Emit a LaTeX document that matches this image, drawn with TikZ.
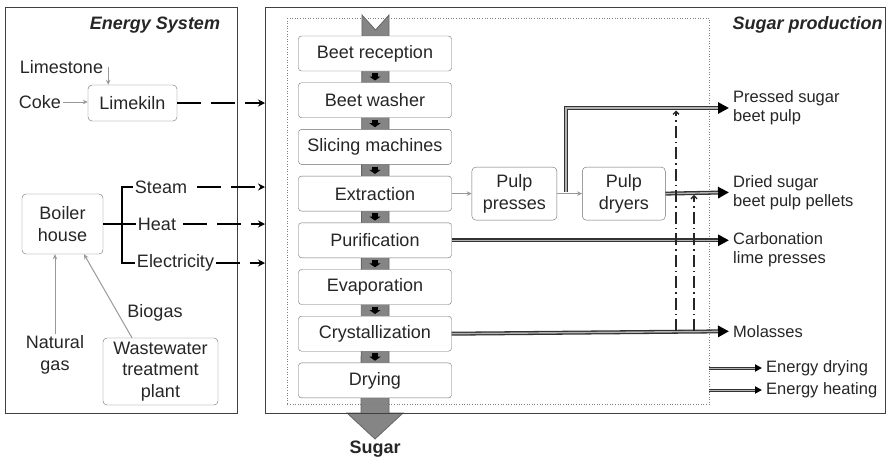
\documentclass[tikz,border=0pt]{standalone}
\usepackage{fontspec}
\setmainfont{Liberation Sans}
\usetikzlibrary{arrows.meta,positioning}

\begin{document}
\begin{tikzpicture}[
    x=1pt, y=-1pt,
    every node/.style={font=\fontsize{18}{21.5}\selectfont, text=black!85, align=center, inner sep=2pt},
    panel/.style={rectangle, draw=black!75, line width=1.3pt, anchor=north west},
    paneltitle/.style={font=\fontsize{18}{21.5}\selectfont\bfseries\itshape},
    stage/.style={rectangle, rounded corners=3pt, draw=gray!85!black, fill=white, minimum width=153pt, minimum height=35pt, inner sep=1pt},
    unitbox/.style={rectangle, rounded corners=4pt, draw=gray!85!black, fill=white, inner sep=2pt},
    outtext/.style={anchor=west, align=left, inner sep=4pt, font=\fontsize{16.5}{19}\selectfont},
    feed/.style={draw=gray!80, line width=1pt, -{Stealth[length=5pt,width=4.5pt]}},
    supply/.style={draw=black, line width=2pt, dash pattern=on 24pt off 10pt, -{Stealth[length=7pt,width=7pt]}},
    forkline/.style={draw=black, line width=1.3pt},
    flowtip/.style={draw=black, line width=6pt, shorten <=2pt, shorten >=2pt, -{Triangle[width=11pt,length=4pt]}},
    stream/.style={draw=black!80, line width=4pt, -{Triangle[length=11pt,width=11pt,color=black]},
        postaction={draw=gray!60, line width=1.4pt, -, shorten >=11pt}}, % doppia linea con punta piena
    smallstream/.style={draw=black!80, line width=3pt, -{Triangle[length=7pt,width=7pt,color=black]},
        postaction={draw=gray!60, line width=1pt, -, shorten >=7pt}},
    recycle/.style={draw=black!85, line width=1.3pt, dash pattern=on 12pt off 4pt on 1.5pt off 4pt, shorten >=2.5pt, -{Straight Barb[length=3pt,width=6pt]}}
]
\useasboundingbox (0,0) rectangle (890,458);

% main product band
\filldraw[fill=black!48, draw=black!60, line width=0.8pt]
    (362,15) -- (375.5,30) -- (389,15) -- (389,413) -- (403,413) -- (375,439)
    -- (347,413) -- (361,413) -- cycle;

\node[panel, minimum width=232pt, minimum height=406pt] (esys) at (5,7) {};
\node[panel, minimum width=620pt, minimum height=406pt] (prod) at (265,7) {};
\node[draw=gray, dotted, line width=0.6pt, anchor=north west, minimum width=422pt, minimum height=386pt, inner sep=0pt] (plant) at (287,18) {};

\node[paneltitle] (esystitle) at (155,25) {Energy System};
\node[paneltitle] (prodtitle) at (807.5,25) {Sugar production};

% energy system
\node (limestone) at (61.5,67) {Limestone};
\node (coke) at (40,102) {Coke};
\node[unitbox, minimum width=89pt, minimum height=36pt] (limekiln) at (132.5,103) {Limekiln};
\node[unitbox, minimum width=81pt, minimum height=60pt] (boiler) at (62.5,224) {Boiler\\house};
\node (steam) at (161,187) {Steam};
\node (heat) at (157,224) {Heat};
\node (elec) at (175.5,263) {Electricity};
\coordinate (forkpt) at (122,224);
\node (gas) at (55,355) {Natural\\gas};
\node (biogas) at (155,313) {Biogas};
\node[unitbox, minimum width=115pt, minimum height=67pt] (ww) at (160.5,371.5) {Wastewater\\treatment\\plant};

\draw[feed] ([xshift=3pt]limestone.east) -- ([xshift=3pt]limestone.east |- limekiln.north);
\draw[feed] (coke.east) -- (coke.east -| limekiln.west);
\draw[feed] (gas.north) -- (gas.north |- boiler.south);
\draw[feed] ([xshift=-28.5pt]ww.north) -- ([xshift=21.5pt]boiler.south);
\draw[forkline] (boiler.east) -- (heat.west);
\draw[forkline] (steam.west) -| (forkpt) |- (elec.west);

\draw[supply] (limekiln.east) -- (limekiln.east -| prod.west);
\draw[supply, shorten <=8pt] (steam.east) -- (steam.east -| prod.west);
\draw[supply, shorten <=5pt] (heat.east) -- (heat.east -| prod.west);
\draw[supply] (elec.east) -- (elec.east -| prod.west);

% sugar production
\node[stage] (recep) at (375,53.5) {Beet reception};
\node[stage, below=11.3pt of recep] (washer) {Beet washer};
\node[stage, below=11.3pt of washer] (slicing) {Slicing machines};
\node[stage, below=11.3pt of slicing] (extract) {Extraction};
\node[stage, below=11.3pt of extract] (purif) {Purification};
\node[stage, below=11.3pt of purif] (evap) {Evaporation};
\node[stage, below=11.3pt of evap] (crystal) {Crystallization};
\node[stage, below=11.3pt of crystal] (drying) {Drying};
\node[font=\fontsize{18}{21.5}\selectfont\bfseries] (sugar) at (375,449) {Sugar};

\draw[flowtip] (recep) -- (washer);
\draw[flowtip] (washer) -- (slicing);
\draw[flowtip] (slicing) -- (extract);
\draw[flowtip] (extract) -- (purif);
\draw[flowtip] (purif) -- (evap);
\draw[flowtip] (evap) -- (crystal);
\draw[flowtip] (crystal) -- (drying);

\node[unitbox, right=20pt of extract, minimum width=85pt, minimum height=53pt] (presses) {Pulp\\presses};
\node[unitbox, right=25pt of presses, minimum width=83pt, minimum height=53pt] (dryers) {Pulp\\dryers};
\coordinate (split) at (566,192.4);

\node[outtext] (pressed) at (729,108) {Pressed sugar\\beet pulp};
\node[outtext] (dried) at (729,192.4) {Dried sugar\\beet pulp pellets};
\node[outtext] (carb) at (729,250) {Carbonation\\lime presses};
\node[outtext] (molasses) at (729,331.3) {Molasses};
\node[outtext] (edry) at (762,368) {Energy drying};
\node[outtext] (eheat) at (762,390) {Energy heating};
\coordinate (dryout) at (709,368);
\coordinate (heatout) at (709,390);
\coordinate (r1) at (676,331.3);
\coordinate (r2) at (694,331.3);

\draw[feed] (extract.east) -- (presses.west);
\draw[feed] (presses.east) -- (dryers.west);
\draw[stream] (split) |- (pressed.west);
\draw[stream] (dryers.east) -- (dried.west);
\draw[stream] (purif.east) -- (purif.east -| carb.west);
\draw[stream] (crystal.east) -- (molasses.west);
\draw[smallstream] (dryout) -- (edry.west);
\draw[smallstream] (heatout) -- (eheat.west);
\draw[recycle] (r1) -- (r1 |- pressed.west);
\draw[recycle] (r2) -- (r2 |- dried.west);
\end{tikzpicture}
\end{document}
